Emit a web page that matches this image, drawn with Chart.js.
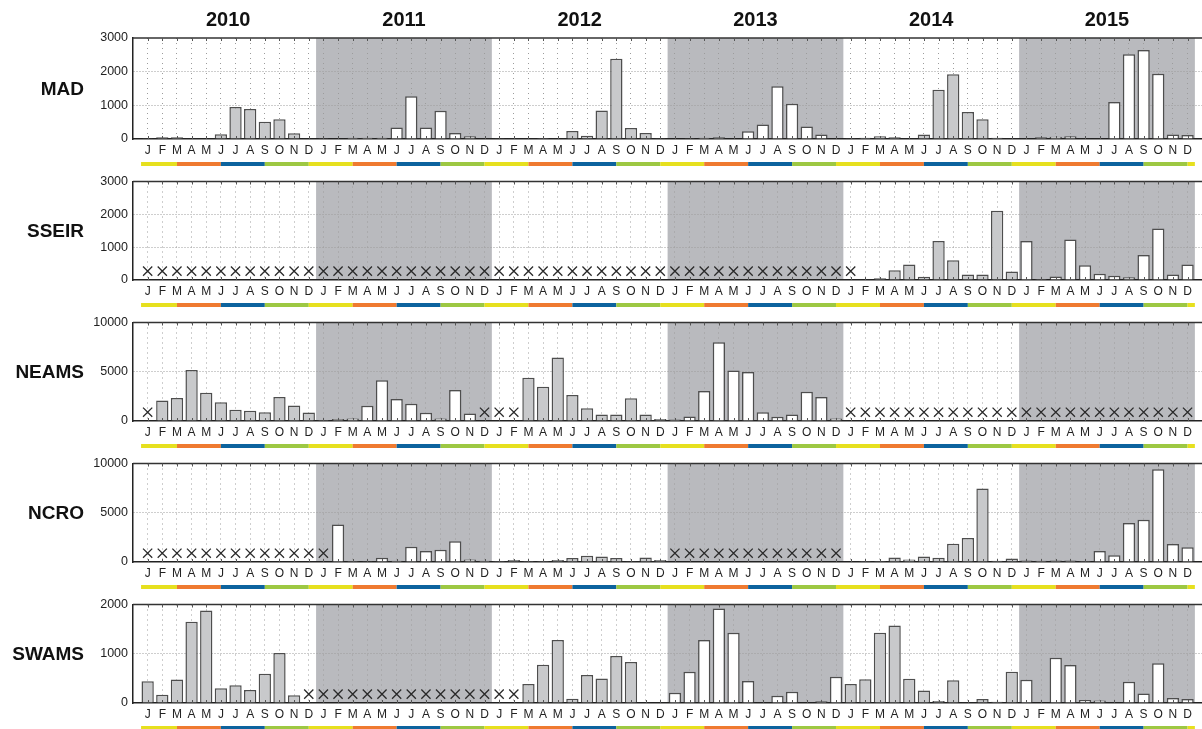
<!DOCTYPE html>
<html>
<head>
<meta charset="utf-8">
<script src="https://cdn.jsdelivr.net/npm/chart.js@4.4.1/dist/chart.umd.min.js"></script>
<style>
  html, body { margin: 0; padding: 0; background: #fff; width: 1202px; height: 729px; overflow: hidden; }
  canvas { position: absolute; left: 0; }
</style>
</head>
<body>
<script>
// ---- data ----
const years = ['2010', '2011', '2012', '2013', '2014', '2015'];
const monthLetters = ['J', 'F', 'M', 'A', 'M', 'J', 'J', 'A', 'S', 'O', 'N', 'D'];
const stations = ['MAD', 'SSEIR', 'NEAMS', 'NCRO', 'SWAMS'];

// monthly values Jan 2010 .. Dec 2015, null = no data (drawn as X)
const mad = [
  5, 50, 50, 10, 15, 140, 950, 890, 510, 590, 170, 10,
  5, 10, 40, 40, 40, 340, 1270, 340, 840, 180, 80, 10,
  5, 10, 20, 30, 10, 240, 100, 850, 2380, 330, 180, 5,
  0, 5, 40, 50, 15, 230, 430, 1570, 1050, 370, 130, 10,
  5, 40, 80, 50, 20, 130, 1460, 1920, 800, 590, 40, 10,
  10, 50, 70, 80, 20, 20, 1100, 2520, 2640, 1940, 130, 120
];
const sseir = [
  null, null, null, null, null, null, null, null, null, null, null, null,
  null, null, null, null, null, null, null, null, null, null, null, null,
  null, null, null, null, null, null, null, null, null, null, null, null,
  null, null, null, null, null, null, null, null, null, null, null, null,
  null, 20, 50, 300, 470, 100, 1190, 600, 170, 170, 2110, 260,
  1190, 30, 110, 1230, 450, 190, 130, 80, 760, 1570, 170, 470
];
const neams = [
  null, 2080, 2340, 5180, 2870, 1910, 1150, 1050, 890, 2440, 1580, 860,
  100, 200, 260, 1550, 4130, 2240, 1750, 830, 260, 3140, 760, null,
  null, null, 4390, 3470, 6440, 2640, 1290, 660, 660, 2310, 660, 200,
  160, 460, 3040, 7990, 5120, 4980, 890, 430, 660, 2970, 2440, 260,
  null, null, null, null, null, null, null, null, null, null, null, null,
  null, null, null, null, null, null, null, null, null, null, null, null
];
const ncro = [
  null, null, null, null, null, null, null, null, null, null, null, null,
  null, 3800, 100, 20, 430, 130, 1550, 1120, 1250, 2110, 260, 130,
  100, 200, 100, 10, 200, 400, 630, 570, 400, 20, 460, 200,
  null, null, null, null, null, null, null, null, null, null, null, null,
  60, 100, 100, 460, 260, 560, 430, 1850, 2440, 7460, 130, 360,
  160, 130, 160, 160, 100, 1120, 690, 3960, 4290, 9410, 1820, 1490
];
const swams = [
  444, 166, 477, 1650, 1880, 298, 358, 265, 596, 1013, 159, null,
  null, null, null, null, null, null, null, null, null, null, null, null,
  null, null, 384, 775, 1278, 86, 570, 497, 953, 833, 13, 13,
  207, 633, 1280, 1920, 1427, 447, 13, 147, 227, 13, 33, 533,
  387, 480, 1427, 1573, 493, 253, 40, 460, 13, 80, 27, 633,
  473, 13, 920, 773, 60, 53, 13, 433, 193, 807, 100, 80
];
const seriesValues = [mad, sseir, neams, ncro, swams];
const yMaxes = [3000, 3000, 10000, 10000, 2000];
const yTickSteps = [1000, 1000, 5000, 5000, 1000];
const missingMarkLevel = [270, 270, 890, 890, 180];
const shadedYears = [1, 3, 5]; // 2011, 2013, 2015
const seasonColors = ['#e6e01e', '#ef7a30', '#0c639e', '#9dc842'];

// ---- layout ----
const FONT = '"Liberation Sans", Arial, Helvetica, sans-serif';
const panelTops = [38, 179, 320, 461, 602];
const plotH = 101;
const axisH = 36;
const nMonths = years.length * 12;

// one blank slot at each end so the months sit at 1..72 of a 0..73 axis
const xLabels = [''].concat(years.flatMap(() => monthLetters), ['']);
const pad = arr => [null].concat(arr, [null]);

stations.forEach((name, p) => {
  const padTop = p === 0 ? 38 : 10;
  const h = padTop + plotH + axisH;
  const cv = document.createElement('canvas');
  cv.width = 1210;
  cv.height = h;
  cv.style.top = (panelTops[p] - padTop) + 'px';
  cv.style.width = '1210px';
  cv.style.height = h + 'px';
  document.body.appendChild(cv);

  const vals = seriesValues[p];
  const yMax = yMaxes[p];

  const decor = {
    id: 'decor' + p,
    beforeDraw(chart) {
      const { ctx, chartArea: a, scales: { x } } = chart;
      ctx.save();
      ctx.fillStyle = '#b9babe';
      shadedYears.forEach(y => {
        const x1 = x.getPixelForValue(12 * y + 0.5);
        const x2 = x.getPixelForValue(12 * y + 12.5);
        ctx.fillRect(x1, a.top, x2 - x1, a.bottom - a.top);
      });
      ctx.restore();
    },
    afterDraw(chart) {
      const { ctx, chartArea: a, scales: { x } } = chart;
      ctx.save();
      // top frame + small inner ticks
      ctx.strokeStyle = '#333';
      ctx.lineWidth = 1.5;
      ctx.beginPath();
      ctx.moveTo(a.left, a.top);
      ctx.lineTo(a.right, a.top);
      ctx.stroke();
      ctx.lineWidth = 1;
      ctx.strokeStyle = '#555';
      ctx.beginPath();
      for (let i = 1; i <= nMonths; i++) {
        const px = Math.round(x.getPixelForValue(i)) + 0.5;
        ctx.moveTo(px, a.top);
        ctx.lineTo(px, a.top + 3);
        ctx.moveTo(px, a.bottom);
        ctx.lineTo(px, a.bottom - 3);
      }
      ctx.stroke();

      // season strip
      ctx.lineWidth = 4;
      const sy = a.bottom + 25;
      for (let k = 0; k * 3 < nMonths + 1; k++) {
        const s = Math.max(0.55, 3 * k);
        const e = Math.min(nMonths + 0.5, 3 * k + 3);
        if (e <= s) continue;
        ctx.strokeStyle = seasonColors[k % 4];
        ctx.beginPath();
        ctx.moveTo(x.getPixelForValue(s), sy);
        ctx.lineTo(x.getPixelForValue(e), sy);
        ctx.stroke();
      }

      // station name
      ctx.fillStyle = '#111';
      ctx.font = 'bold 19px ' + FONT;
      ctx.textAlign = 'right';
      ctx.textBaseline = 'middle';
      ctx.fillText(name, 84, (a.top + a.bottom) / 2 + 1);

      // year titles on top of the first panel
      if (p === 0) {
        ctx.font = 'bold 20px ' + FONT;
        ctx.textAlign = 'center';
        years.forEach((yr, i) => {
          ctx.fillText(yr, x.getPixelForValue(12 * i + 6.5), 20);
        });
      }
      ctx.restore();
    }
  };

  new Chart(cv, {
    data: {
      labels: xLabels,
      datasets: [
        {
          type: 'line',
          data: pad(vals.map(v => v === null ? missingMarkLevel[p] : null)),
          showLine: false,
          pointStyle: 'crossRot',
          pointRadius: 6.5,
          pointBorderWidth: 1.3,
          borderColor: '#2a2a2a',
          pointBorderColor: '#2a2a2a',
          pointHoverRadius: 6.5
        },
        {
          type: 'bar',
          data: pad(vals),
          backgroundColor: c => shadedYears.includes(Math.floor((c.dataIndex - 1) / 12)) ? '#ffffff' : '#c8c9cb',
          borderColor: '#4e4e4e',
          borderWidth: 1.5,
          categoryPercentage: 1,
          barPercentage: 0.84
        }
      ]
    },
    options: {
      responsive: false,
      animation: false,
      devicePixelRatio: 1,
      events: [],
      layout: { padding: { top: padTop, left: 88, right: 6, bottom: 0 } },
      plugins: { legend: { display: false }, tooltip: { enabled: false } },
      scales: {
        x: {
          type: 'category',
          offset: false,
          grid: {
            offset: false,
            drawTicks: false,
            color: c => (c.index === 0 || c.index === nMonths + 1) ? 'rgba(0,0,0,0)' : '#9c9c9c'
          },
          border: { color: '#222', width: 1.5, dash: [1, 4] },
          ticks: {
            autoSkip: false, maxRotation: 0, minRotation: 0,
            padding: 4, color: '#222',
            font: { size: 12, family: FONT }
          },
          afterFit: s => { s.height = axisH; }
        },
        y: {
          min: 0,
          max: yMax,
          grid: {
            drawTicks: false,
            color: c => (c.tick.value === 0 || c.tick.value === yMax) ? 'rgba(0,0,0,0)' : '#9c9c9c'
          },
          border: { color: '#222', width: 1.5, dash: [1, 2] },
          ticks: {
            stepSize: yTickSteps[p],
            padding: 5, color: '#222',
            font: { size: 12.5, family: FONT },
            callback: v => String(v)
          },
          afterFit: s => { s.width = 45; }
        }
      }
    },
    plugins: [decor]
  });
});
</script>
</body>
</html>
